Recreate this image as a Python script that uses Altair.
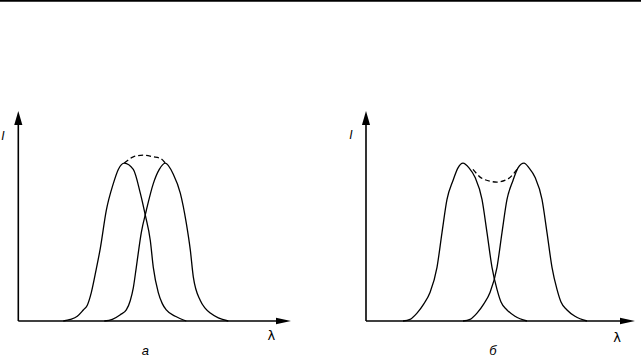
import altair as alt
import pandas as pd

# ---------- data (λ in arbitrary units, I normalised to peak = 1) ----------
# panel а (peaks close: no dip in the envelope)
a_left_lam = [45, 52, 59, 65, 69, 73, 78, 82, 88, 95, 100, 106, 115, 122, 127, 132, 135, 140, 144, 148, 157, 168]
a_left_I = [0, 0.01, 0.03, 0.07, 0.10, 0.18, 0.33, 0.46, 0.70, 0.87, 0.96, 1.0, 0.96, 0.81, 0.67, 0.51, 0.34, 0.18, 0.11, 0.07, 0.03, 0]
a_right_lam = [86, 94, 102, 108, 112, 115, 118, 123, 128, 135, 141, 147, 155, 162, 168, 172, 175, 182, 187, 192, 200, 210]
a_right_I = [0, 0.01, 0.04, 0.07, 0.13, 0.21, 0.34, 0.56, 0.70, 0.87, 0.96, 1.0, 0.93, 0.81, 0.62, 0.45, 0.28, 0.13, 0.08, 0.05, 0.02, 0]
a_env_lam = [106, 110, 115, 125, 135, 142, 147]
a_env_I = [1.0, 1.02, 1.04, 1.05, 1.04, 1.03, 1.0]

# panel б (peaks resolved: dip in the envelope)
b_left_lam = [37, 44, 51, 58, 64, 71, 76, 81, 87, 92, 97, 103, 109, 116, 121, 126, 131, 135, 141, 149, 161]
b_left_I = [0, 0.01, 0.05, 0.11, 0.18, 0.34, 0.56, 0.77, 0.89, 0.97, 1.0, 0.97, 0.91, 0.77, 0.56, 0.34, 0.20, 0.12, 0.07, 0.03, 0]
b_right_lam = [97, 104, 111, 118, 124, 131, 136, 141, 147, 152, 158, 163, 169, 176, 181, 186, 191, 195, 201, 209, 221]
b_right_I = [0, 0.01, 0.05, 0.11, 0.18, 0.34, 0.56, 0.77, 0.89, 0.97, 1.0, 0.97, 0.91, 0.77, 0.56, 0.34, 0.20, 0.12, 0.07, 0.03, 0]
b_env_lam = [107, 117, 131, 142, 151]
b_env_I = [0.96, 0.90, 0.88, 0.90, 0.96]

# axes extents and labels
a_lam_max = 272.7
b_lam_max = 269
I_max = 1.33
panel_labels = ["а", "б"]

# ---------- helpers ----------
ys = alt.Scale(domain=[0, I_max], range=[321, 111], nice=False, zero=False)
UP = "M0,0L0.29,1L-0.29,1Z"
RIGHT = "M0,0L-1,-0.22L-1,0.22Z"


def panel(lam_l, I_l, lam_r, I_r, lam_e, I_e, lam_max, x_range, label, lab_pos):
    xs = alt.Scale(domain=[0, lam_max], range=x_range, nice=False, zero=False)
    X = lambda f: alt.X(f, type="quantitative", scale=xs, axis=None)
    Y = lambda f: alt.Y(f, type="quantitative", scale=ys, axis=None)

    curves = pd.DataFrame({
        "lam": lam_l + lam_r,
        "I": I_l + I_r,
        "curve": ["L"] * len(lam_l) + ["R"] * len(lam_r),
    })
    env = pd.DataFrame({"lam": lam_e, "I": I_e})

    c = alt.Chart(curves).mark_line(interpolate="monotone", color="black", strokeWidth=1.3).encode(
        x=X("lam"), y=Y("I"), detail="curve:N")
    e = alt.Chart(env).mark_line(interpolate="monotone", color="black", strokeWidth=1.3,
                                 strokeDash=[5, 3]).encode(x=X("lam"), y=Y("I"))

    axes = pd.DataFrame({"lam": [0, 0], "I": [0, 0], "lam2": [0, lam_max - 8], "I2": [I_max - 0.06, 0]})
    ax = alt.Chart(axes).mark_rule(color="black", strokeWidth=1.6).encode(
        x=X("lam"), y=Y("I"), x2="lam2:Q", y2="I2:Q")

    up = alt.Chart(pd.DataFrame({"lam": [0], "I": [I_max]})).mark_point(
        shape=UP, size=784, filled=True, color="black", opacity=1, strokeWidth=0).encode(x=X("lam"), y=Y("I"))
    right = alt.Chart(pd.DataFrame({"lam": [lam_max], "I": [0]})).mark_point(
        shape=RIGHT, size=900, filled=True, color="black", opacity=1, strokeWidth=0).encode(x=X("lam"), y=Y("I"))

    (il, iI), (ll, lI), (pl, pI) = lab_pos
    ital = pd.DataFrame({"lam": [il, pl], "I": [iI, pI], "t": ["I", label], "sz": [12, 13]})
    t1 = alt.Chart(ital).mark_text(font="Liberation Sans", fontStyle="italic", color="black",
                                   align="center", baseline="middle").encode(
        x=X("lam"), y=Y("I"), text="t:N", size=alt.Size("sz:Q", scale=None, legend=None))
    lam_lab = pd.DataFrame({"lam": [ll], "I": [lI], "t": ["λ"]})
    t2 = alt.Chart(lam_lab).mark_text(font="DejaVu Sans", fontSize=13, color="black",
                                      align="center", baseline="middle").encode(
        x=X("lam"), y=Y("I"), text="t:N")

    return alt.layer(c, e, ax, up, right, t1, t2)


pa = panel(a_left_lam, a_left_I, a_right_lam, a_right_I, a_env_lam, a_env_I,
           a_lam_max, [18.3, 291], panel_labels[0],
           [(-15.5, 1.17), (253, -0.095), (127, -0.19)])
pb = panel(b_left_lam, b_left_I, b_right_lam, b_right_I, b_env_lam, b_env_I,
           b_lam_max, [366, 635], panel_labels[1],
           [(-15, 1.18), (251, -0.11), (127, -0.19)])

top = alt.Chart(pd.DataFrame({"k": [0]})).mark_rule(color="black", strokeWidth=1.8).encode(
    x=alt.value(0), x2=alt.value(641), y=alt.value(0.9))

chart = alt.layer(pa, pb, top).resolve_scale(x="independent").properties(
    width=641, height=358, padding=0, autosize=alt.AutoSizeParams(type="none")
).configure_view(stroke=None)

chart.save("out.html", embed_options={"renderer": "svg", "actions": False})
